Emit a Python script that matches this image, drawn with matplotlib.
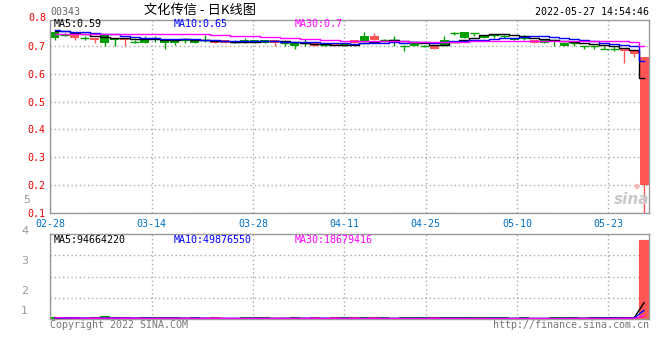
import numpy as np
import pandas as pd
import matplotlib
matplotlib.use('Agg')
import matplotlib.pyplot as plt

# 00343 daily candles, 2022-02-28 .. 2022-05-27 (60 sessions)
opens = [0.73, 0.74, 0.74, 0.73, 0.73, 0.71, 0.72, 0.73, 0.715, 0.71,
         0.72, 0.71, 0.71, 0.72, 0.71, 0.72, 0.72, 0.72, 0.715, 0.715,
         0.715, 0.71, 0.72, 0.71, 0.70, 0.71, 0.71, 0.705, 0.71, 0.70,
         0.72, 0.715, 0.735, 0.72, 0.72, 0.70, 0.70, 0.70, 0.70, 0.70,
         0.745, 0.73, 0.745, 0.73, 0.74, 0.735, 0.72, 0.73, 0.72, 0.71,
         0.72, 0.70, 0.71, 0.70, 0.70, 0.69, 0.69, 0.69, 0.68, 0.66]
highs = [0.755, 0.745, 0.745, 0.735, 0.73, 0.74, 0.73, 0.73, 0.72, 0.735,
         0.735, 0.72, 0.72, 0.73, 0.72, 0.74, 0.72, 0.72, 0.72, 0.73,
         0.72, 0.72, 0.72, 0.72, 0.71, 0.725, 0.71, 0.71, 0.71, 0.71,
         0.72, 0.75, 0.745, 0.725, 0.735, 0.705, 0.71, 0.705, 0.70, 0.735,
         0.75, 0.75, 0.745, 0.74, 0.74, 0.74, 0.73, 0.74, 0.72, 0.72,
         0.72, 0.71, 0.71, 0.70, 0.70, 0.70, 0.70, 0.69, 0.68, 0.66]
lows = [0.72, 0.735, 0.72, 0.72, 0.71, 0.70, 0.70, 0.70, 0.71, 0.71,
        0.715, 0.69, 0.705, 0.71, 0.71, 0.715, 0.71, 0.71, 0.71, 0.71,
        0.71, 0.71, 0.70, 0.70, 0.69, 0.70, 0.70, 0.70, 0.70, 0.70,
        0.71, 0.715, 0.72, 0.72, 0.70, 0.68, 0.70, 0.695, 0.69, 0.70,
        0.74, 0.73, 0.735, 0.73, 0.73, 0.73, 0.72, 0.72, 0.71, 0.71,
        0.70, 0.70, 0.70, 0.69, 0.69, 0.69, 0.68, 0.64, 0.66, 0.10]
closes = [0.75, 0.74, 0.73, 0.73, 0.72, 0.74, 0.73, 0.72, 0.715, 0.725,
          0.73, 0.72, 0.72, 0.72, 0.72, 0.72, 0.71, 0.71, 0.715, 0.72,
          0.72, 0.72, 0.71, 0.71, 0.71, 0.71, 0.70, 0.705, 0.70, 0.71,
          0.71, 0.735, 0.72, 0.72, 0.72, 0.70, 0.71, 0.70, 0.69, 0.72,
          0.745, 0.75, 0.745, 0.74, 0.74, 0.735, 0.73, 0.73, 0.71, 0.72,
          0.72, 0.71, 0.71, 0.70, 0.70, 0.69, 0.69, 0.68, 0.67, 0.20]
# closes of the 29 sessions before the window, only there to seed the MAs
prev_closes = [0.72, 0.73, 0.72, 0.73, 0.72, 0.72, 0.73, 0.72, 0.73, 0.72,
               0.72, 0.73, 0.72, 0.73, 0.74, 0.75, 0.76, 0.77, 0.77, 0.76,
               0.77, 0.76, 0.75, 0.76, 0.76, 0.75, 0.76, 0.75, 0.76]
# volume, millions of shares
volumes = [8, 3, 4, 2, 3, 9, 4, 3, 2, 3,
           3, 8, 3, 2, 3, 2, 3, 2, 2, 3,
           7, 3, 2, 2, 7, 2, 3, 2, 3, 3,
           3, 3, 4, 3, 2, 3, 3, 7, 3, 3,
           3, 3, 3, 3, 3, 3, 2, 3, 2, 2.6,
           4, 3.5, 8, 2, 8, 4, 4, 7, 5, 453.3]

date_idx = [0, 10, 20, 29, 37, 46, 55]
date_labels = ['02-28', '03-14', '03-28', '04-11', '04-25', '05-10', '05-23']
price_ticks = [0.1, 0.2, 0.3, 0.4, 0.5, 0.6, 0.7]
ma_price_text = ['MA5:0.59', 'MA10:0.65', 'MA30:0.7']
ma_vol_text = ['MA5:94664220', 'MA10:49876550', 'MA30:18679416']
vol_side_labels = ['5', '4', '3', '2', '1']

GREEN = '#00a000'
RED = '#ff5555'
BLUE = '#0000ff'
MAGENTA = '#ff00ff'
GRID = '#aaaaaa'
MONO = 'DejaVu Sans Mono'
FS = 7.2
W, H = 660, 360


def fx(x):
    return x / W


def fy(y):
    return 1 - y / H


fig = plt.figure(figsize=(6.6, 3.6), dpi=100)
ax = fig.add_axes([fx(50), fy(213), 599 / W, 193 / H])
axv = fig.add_axes([fx(50), fy(319), 599 / W, 85 / H])

n = len(closes)
x = np.arange(n)
o, h, l, c = (np.array(a) for a in (opens, highs, lows, closes))
col = np.where(c >= o, GREEN, RED)

# candles
ax.vlines(x, l, h, colors=col, lw=1, zorder=2)
ax.bar(x, c - o, bottom=o, width=0.9, color=col, lw=0, zorder=2)
doji = c == o
ax.hlines(c[doji], x[doji] - 0.45, x[doji] + 0.45, colors=col[doji], lw=1, zorder=2)

allc = pd.Series(prev_closes + closes)
for w, colr in [(5, 'black'), (10, BLUE), (30, MAGENTA)]:
    ma = allc.rolling(w).mean().to_numpy()[-n:]
    ax.plot(x, ma, color=colr, lw=1, drawstyle='steps-mid', zorder=3)

# volume
v = np.array(volumes) * 1e6
axv.bar(x, v, width=0.8, color=col, edgecolor=col, lw=1.5, zorder=2)
vs = pd.Series(v)
for w, colr in [(5, 'black'), (10, BLUE), (30, MAGENTA)]:
    axv.plot(x, vs.rolling(w, min_periods=1).mean(), color=colr, lw=1, zorder=3)
vtop = v.max() * 1.09
axv.set_ylim(0, vtop)

# sina lays its date grid over n-1 slots while candles use n
grid_x = np.array(date_idx) * n / (n - 1) - 0.5
for a in (ax, axv):
    a.set_xlim(-0.5, n - 0.5)
    a.set_xticks(grid_x)
    a.grid(True, color=GRID, ls=(0, (1, 2)), lw=1)
    a.set_axisbelow(True)
    for s in a.spines.values():
        s.set_color('#999999')
        s.set_linewidth(1)
    a.tick_params(length=0)

ax.set_ylim(0.1, 0.793)
ax.set_yticks(price_ticks)
ax.set_yticklabels(['%.1f' % t for t in price_ticks], color='#ee0000',
                   family=MONO, fontsize=FS)
ax.tick_params(axis='y', pad=3)
ax.text(-4 / 599, 0.8, '0.8', transform=ax.get_yaxis_transform(), ha='right',
        va='center', color='#ee0000', family=MONO, fontsize=FS, clip_on=False)
ax.set_xticklabels(date_labels, color='#0070c8', family=MONO, fontsize=FS)
ax.tick_params(axis='x', pad=4)

axv.set_yticks(np.linspace(0, vtop, 5)[1:-1])
axv.set_yticklabels([])
axv.set_xticklabels([])

for txt, xp, colr in zip(ma_price_text, [54, 174, 295], ['black', BLUE, MAGENTA]):
    fig.text(fx(xp), fy(24), txt, color=colr, family=MONO, fontsize=FS, va='center')
for txt, xp, colr in zip(ma_vol_text, [54, 174, 295], ['black', BLUE, MAGENTA]):
    fig.text(fx(xp), fy(240), txt, color=colr, family=MONO, fontsize=FS, va='center')

for txt, (xp, yp) in zip(vol_side_labels, [(27, 200), (25, 231), (25, 261), (25, 291), (24, 311)]):
    fig.text(fx(xp), fy(yp), txt, color='#999999', fontsize=8, ha='center', va='center')

fig.text(fx(200), fy(10), '文化传信 - 日K线图', ha='center', va='center', fontsize=9.5,
         family=['Noto Sans CJK SC', 'DejaVu Sans'])
fig.text(fx(50), fy(12), '00343', color='#666666', family=MONO, fontsize=FS, va='center')
fig.text(fx(649), fy(12), '2022-05-27 14:54:46', ha='right', va='center',
         family=MONO, fontsize=FS)
fig.text(fx(50), fy(325), 'Copyright 2022 SINA.COM', color='#777777', family=MONO,
         fontsize=FS, va='center')
fig.text(fx(649), fy(325), 'http://finance.sina.com.cn', color='#777777', family=MONO,
         fontsize=FS, va='center', ha='right')
fig.text(fx(637), fy(186), '●', color='#f5b8b8', fontsize=5, ha='center', va='center')
fig.text(fx(632), fy(200), 'sina', color='#c8c8c8', fontsize=11, style='italic',
         weight='bold', ha='center', va='center')

fig.savefig('out.png', dpi=100)
